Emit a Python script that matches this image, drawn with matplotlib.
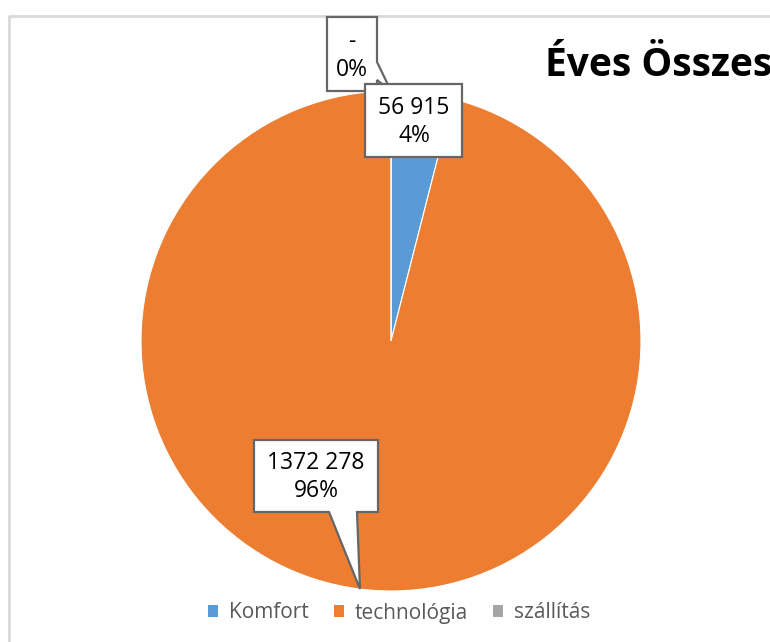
import matplotlib.pyplot as plt
from matplotlib.patches import Polygon, Rectangle

# data
categories = ["Komfort", "technológia", "szállítás"]
values = [56915, 1372278, 0]
colors = ["#5B9BD5", "#ED7D31", "#A5A5A5"]
title = "Éves Összes"

W, H = 770, 642
plt.rcParams['font.family'] = ['Open Sans', 'DejaVu Sans']


def py(y):
    # pixel row (from top) -> data y
    return H - y


def label_text(v, total):
    # Excel "# ##0" style: only the last group is split off
    if v == 0:
        num = "-"
    elif v >= 1000:
        num = f"{v // 1000} {v % 1000:03d}"
    else:
        num = str(v)
    return f"{num}\n{round(v / total * 100):.0f}%"


fig = plt.figure(figsize=(W / 100, H / 100), dpi=100)
ax = fig.add_axes([0, 0, 1, 1])

wedges, _ = ax.pie(values, colors=colors, startangle=90, counterclock=False,
                   center=(391, py(341)), radius=250,
                   wedgeprops=dict(edgecolor="white", linewidth=0.8))
for w in wedges:
    w.set_zorder(2)

# pie() sets its own limits, so fix them afterwards
ax.set_xlim(0, W)
ax.set_ylim(0, H)
ax.set_aspect('equal')
ax.axis('off')

# chart border (left and top only visible)
ax.plot([8.5, 8.5, W + 5], [py(H + 5), py(16), py(16)], color="#D9D9D9", lw=2, zorder=1,
        clip_on=False)

total = sum(values)
texts = [label_text(v, total) for v in values]

edge = "#666666"
fs = 16.5
# callout for szállítás (0%)
pts = [(327, 17), (377, 17), (377, 62), (391, 91), (377, 80), (377, 91), (327, 91)]
ax.add_patch(Polygon([(x, py(y)) for x, y in pts], closed=True, fc="white", ec=edge, lw=1.6, zorder=3))
ax.text(352, py(56), texts[2], ha="center", va="center", fontsize=fs, linespacing=1.25, zorder=4)

# callout for Komfort
ax.add_patch(Rectangle((365, py(157)), 97, 73, fc="white", ec=edge, lw=1.6, zorder=5))
ax.text(414, py(122), texts[0], ha="center", va="center", fontsize=fs, linespacing=1.25, zorder=6)

# callout for technológia
pts = [(254, 440), (378, 440), (378, 512), (357, 512), (360, 589), (329, 512), (254, 512)]
ax.add_patch(Polygon([(x, py(y)) for x, y in pts], closed=True, fc="white", ec=edge, lw=1.6, zorder=3))
ax.text(316, py(477), texts[1], ha="center", va="center", fontsize=fs, linespacing=1.25, zorder=4)

# title (runs off the right edge as in the original)
ax.text(545, py(76), title, ha="left", va="baseline", fontsize=28, fontweight="bold",
        color="black", clip_on=False)

leg = ax.legend(wedges, categories, loc="center", bbox_to_anchor=(399 / W, 1 - 613 / H),
                ncol=3, frameon=False, fontsize=15, handlelength=0.5, handleheight=0.5,
                handletextpad=0.5, columnspacing=1.2, labelcolor="#595959")
for h in leg.legend_handles:
    h.set_edgecolor("none")

fig.savefig("out.png", dpi=100)
